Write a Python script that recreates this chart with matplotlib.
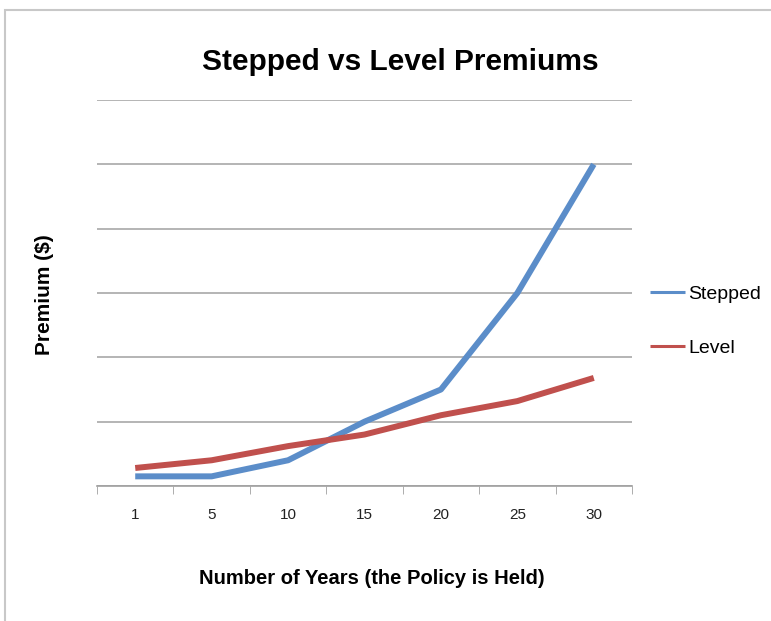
import matplotlib
matplotlib.use("Agg")
import matplotlib.pyplot as plt
from matplotlib.patches import Rectangle
import numpy as np

plt.rcParams['font.family'] = ['Liberation Sans', 'DejaVu Sans']

years = ["1", "5", "10", "15", "20", "25", "30"]
stepped = [0.15, 0.15, 0.4, 1.0, 1.5, 3.0, 5.0]
level = [0.28, 0.4, 0.62, 0.8, 1.1, 1.32, 1.68]

W, H = 771, 621
fig = plt.figure(figsize=(W / 100, H / 100), dpi=100)
fig.patch.set_facecolor('white')

# outer chart frame
fig.patches.append(Rectangle((5 / W, -0.1), 1.2, 1 - 10 / H + 0.1, transform=fig.transFigure,
                             fill=False, edgecolor='#c8c8c8', linewidth=1.5))

ax = fig.add_axes([97 / W, 1 - 486 / H, (632 - 97) / W, (486 - 100) / H])
x = np.arange(len(years))
ax.plot(x, stepped, color='#5b8dc9', linewidth=4.3, solid_capstyle='butt', label='Stepped')
ax.plot(x, level, color='#c0504d', linewidth=4.3, solid_capstyle='butt', label='Level')

ax.set_xlim(-0.5, len(years) - 0.5)
ax.set_ylim(0, 6)
ax.set_yticks(np.arange(0, 7, 1))
ax.yaxis.grid(True, color='#a8a8a8', linewidth=1.2)
ax.set_axisbelow(True)
ax.tick_params(axis='y', length=0, labelleft=False)

ax.set_xticks(x)
ax.set_xticklabels(years, fontsize=11, color='#222222')
ax.tick_params(axis='x', which='major', length=0, pad=16)
ax.set_xticks(np.arange(-0.5, len(years), 1), minor=True)
ax.tick_params(axis='x', which='minor', length=6, color='#a0a0a0', direction='out')

for s in ['top', 'right', 'left']:
    ax.spines[s].set_visible(False)
ax.spines['bottom'].set_color('#a0a0a0')
ax.spines['bottom'].set_linewidth(1.2)

fig.text(400 / W, 1 - 70 / H, 'Stepped vs Level Premiums', ha='center', va='baseline',
         fontsize=21.5, fontweight='bold')
fig.text(372 / W, 1 - 584 / H, 'Number of Years (the Policy is Held)', ha='center', va='baseline',
         fontsize=14.5, fontweight='bold')
fig.text(44 / W, 1 - 295 / H, 'Premium ($)', ha='center', va='center', rotation=90,
         fontsize=15, fontweight='bold')

leg = ax.legend(loc='center left', bbox_to_anchor=(650 / W, 1 - 321 / H),
                bbox_transform=fig.transFigure, frameon=False, fontsize=14,
                handlelength=1.8, handletextpad=0.15, labelspacing=1.9, borderpad=0,
                borderaxespad=0)
for line in leg.get_lines():
    line.set_linewidth(2.2)

fig.savefig('out.png', dpi=100)
